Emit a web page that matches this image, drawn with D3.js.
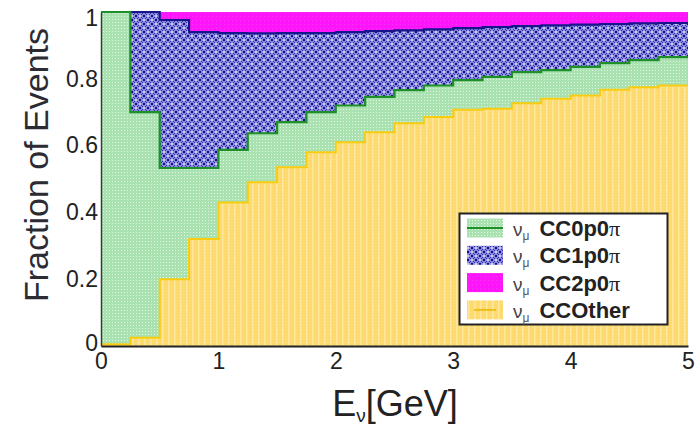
<!DOCTYPE html>
<html>
<head>
<meta charset="utf-8">
<script src="https://cdn.jsdelivr.net/npm/d3@7"></script>
<style>
  body { margin: 0; background: #fff; }
  text { font-family: "Liberation Sans", Arial, Helvetica, sans-serif; }
</style>
</head>
<body>
<svg id="chart" width="697" height="425"></svg>
<script>
// Neutrino energy bins (GeV), lower edges plus the final upper edge
const binEdges = [0, 0.25, 0.5, 0.75, 1.0, 1.25, 1.5, 1.75, 2.0, 2.25, 2.5,
                  2.75, 3.0, 3.25, 3.5, 3.75, 4.0, 4.25, 4.5, 4.75, 5.0];

// Fraction of events per bin for each final-state topology
const ccOther = [0.005, 0.025, 0.20, 0.32, 0.43, 0.49, 0.535, 0.58, 0.61, 0.64,
                 0.667, 0.686, 0.707, 0.71, 0.727, 0.74, 0.75, 0.767, 0.775, 0.78];
const cc0p0pi = [0.995, 0.675, 0.333, 0.213, 0.157, 0.147, 0.135, 0.12, 0.11, 0.106,
                 0.099, 0.094, 0.089, 0.096, 0.093, 0.086, 0.086, 0.08, 0.081, 0.085];
const cc1p0pi = [0.0, 0.30, 0.443, 0.407, 0.35, 0.299, 0.267, 0.237, 0.22, 0.197,
                 0.179, 0.168, 0.156, 0.149, 0.138, 0.134, 0.126, 0.117, 0.11, 0.102];
const cc2p0pi = [0.0, 0.0, 0.024, 0.06, 0.063, 0.064, 0.063, 0.063, 0.06, 0.057,
                 0.055, 0.052, 0.048, 0.045, 0.042, 0.04, 0.038, 0.036, 0.034, 0.033];

const xTicks = [0, 1, 2, 3, 4, 5];
const xTickLabels = ["0", "1", "2", "3", "4", "5"];
const yTicks = [0, 0.2, 0.4, 0.6, 0.8, 1];
const yTickLabels = ["0", "0.2", "0.4", "0.6", "0.8", "1"];

const seriesKeys = ["other", "c0", "c1", "c2"];
const legendNames = ["CC0p0", "CC1p0", "CC2p0", "CCOther"];
const legendPi = [true, true, true, false];
const legendKeys = ["c0", "c1", "c2", "other"];

const W = 697, H = 425;
const margin = { left: 101, right: 9, top: 12, bottom: 79 };
const svg = d3.select("#chart");

const x = d3.scaleLinear().domain([0, 5]).range([margin.left, W - margin.right]);
const y = d3.scaleLinear().domain([0, 1]).range([H - margin.bottom, margin.top]);

// Fill patterns
const defs = svg.append("defs");

const pg = defs.append("pattern").attr("id", "pat-green")
  .attr("patternUnits", "userSpaceOnUse").attr("width", 3).attr("height", 3);
pg.append("rect").attr("width", 3).attr("height", 3).attr("fill", "#a9e2b0");
pg.append("rect").attr("x", 1).attr("y", 1).attr("width", 1).attr("height", 1).attr("fill", "#e2f6e2");

const py = defs.append("pattern").attr("id", "pat-yellow")
  .attr("patternUnits", "userSpaceOnUse").attr("width", 6).attr("height", 3);
py.append("rect").attr("width", 6).attr("height", 3).attr("fill", "#fdda68");
py.append("rect").attr("x", 0).attr("width", 1.5).attr("height", 3).attr("fill", "#fee9a4");
py.append("rect").attr("y", 0).attr("width", 6).attr("height", 0.6).attr("fill", "#fde088");

const pb = defs.append("pattern").attr("id", "pat-blue")
  .attr("patternUnits", "userSpaceOnUse").attr("width", 8).attr("height", 8);
pb.append("rect").attr("width", 8).attr("height", 8).attr("fill", "#9090e8");
pb.append("path").attr("d", "M0,4L4,0L8,4L4,8Z").attr("fill", "none")
  .attr("stroke", "#2e2ea0").attr("stroke-width", 1.0);
[[0, 0], [8, 0], [0, 8], [8, 8], [4, 4]].forEach(([cx, cy]) =>
  pb.append("circle").attr("cx", cx).attr("cy", cy).attr("r", 1.2).attr("fill", "#10107a"));
[[4, 0], [0, 4], [8, 4], [4, 8]].forEach(([cx, cy]) =>
  pb.append("circle").attr("cx", cx).attr("cy", cy).attr("r", 1.0).attr("fill", "#ffffff"));

const pm = defs.append("pattern").attr("id", "pat-magenta")
  .attr("patternUnits", "userSpaceOnUse").attr("width", 4).attr("height", 4);
pm.append("rect").attr("width", 4).attr("height", 4).attr("fill", "#ff14fb");
pm.append("rect").attr("width", 1).attr("height", 1).attr("fill", "#f438f0");

const fills = { other: "url(#pat-yellow)", c0: "url(#pat-green)", c1: "url(#pat-blue)", c2: "url(#pat-magenta)" };
const edgeColors = { other: "#f9cc10", c0: "#1f8f2a", c1: "#16168a" };

// Rows keyed by bin lower edge; last bin repeated at the upper edge for the step curve
const rows = ccOther.map((v, i) => ({
  e: binEdges[i], other: v, c0: cc0p0pi[i], c1: cc1p0pi[i], c2: cc2p0pi[i]
}));
rows.push(Object.assign({}, rows[rows.length - 1], { e: binEdges[binEdges.length - 1] }));

const stacked = d3.stack().keys(seriesKeys)(rows);

const area = d3.area()
  .x(d => x(d.data.e))
  .y0(d => y(d[0]))
  .y1(d => y(d[1]))
  .curve(d3.curveStepAfter);

const topLine = d3.line()
  .x(d => x(d.data.e))
  .y(d => y(d[1]))
  .curve(d3.curveStepAfter);

const plot = svg.append("g");
plot.selectAll("path.layer").data(stacked).join("path")
  .attr("class", "layer")
  .attr("d", area)
  .attr("fill", d => fills[d.key]);

// Upper edges of the stacked layers
["other", "c1", "c0"].forEach(k => {
  const s = stacked.find(d => d.key === k);
  plot.append("path").attr("d", topLine(s))
    .attr("fill", "none")
    .attr("stroke", edgeColors[k])
    .attr("stroke-width", k === "other" ? 2 : 2.2);
});

// Axes
const yAxis = d3.axisLeft(y).tickValues(yTicks).tickSize(0).tickPadding(3)
  .tickFormat((d, i) => yTickLabels[i]);
const gy = svg.append("g").attr("transform", `translate(${margin.left},0)`).call(yAxis);
gy.select(".domain").attr("stroke", "#3a3a3a").attr("stroke-width", 1.5);
gy.selectAll("text").attr("font-size", 23).attr("fill", "#222")
  .attr("font-family", "Liberation Sans, Arial, sans-serif")
  .attr("dy", (d) => d === 1 ? "0.6em" : (d === 0 ? "0.2em" : "0.32em"));

const xAxis = d3.axisBottom(x).tickValues(xTicks).tickSize(0).tickPadding(7)
  .tickFormat((d, i) => xTickLabels[i]);
const gx = svg.append("g").attr("transform", `translate(0,${H - margin.bottom})`).call(xAxis);
gx.select(".domain").attr("stroke", "#222").attr("stroke-width", 2);
gx.selectAll("text").attr("font-size", 23).attr("fill", "#222")
  .attr("font-family", "Liberation Sans, Arial, sans-serif");

// Axis titles
svg.append("text")
  .attr("transform", `translate(48,165) rotate(-90)`)
  .attr("text-anchor", "middle")
  .attr("font-size", 34)
  .attr("fill", "#2b2b33")
  .text("Fraction of Events");

const xt = svg.append("text")
  .attr("x", 395).attr("y", 416)
  .attr("text-anchor", "middle")
  .attr("font-size", 36)
  .attr("fill", "#222");
xt.append("tspan").text("E");
xt.append("tspan").attr("font-size", 19).attr("dy", 6).text("ν");
xt.append("tspan").attr("dy", -6).text("[GeV]");

// Legend
const lg = svg.append("g");
lg.append("rect").attr("x", 459.5).attr("y", 213.5).attr("width", 208).attr("height", 111)
  .attr("fill", "#fff").attr("stroke", "#222").attr("stroke-width", 2);

legendKeys.forEach((k, i) => {
  const cy = 228 + i * 27.3;
  lg.append("rect").attr("x", 467).attr("y", cy - 9.5).attr("width", 36).attr("height", 19)
    .attr("fill", fills[k]);
  if (k === "c0") {
    lg.append("line").attr("x1", 467).attr("x2", 503).attr("y1", cy).attr("y2", cy)
      .attr("stroke", edgeColors.c0).attr("stroke-width", 2);
  }
  if (k === "other") {
    lg.append("line").attr("x1", 474).attr("x2", 496).attr("y1", cy).attr("y2", cy)
      .attr("stroke", "#e8b800").attr("stroke-width", 1.5);
  }
  const t = lg.append("text").attr("x", 513).attr("y", cy + 8).attr("fill", "#222");
  t.append("tspan").attr("font-size", 19).attr("fill", "#444").text("ν");
  t.append("tspan").attr("font-size", 12).attr("dy", 4).attr("fill", "#555").text("μ");
  t.append("tspan").attr("dy", -4).attr("dx", 10).attr("font-size", 22).attr("font-weight", "bold")
    .text(legendNames[i]);
  if (legendPi[i]) {
    t.append("tspan").attr("font-size", 22).attr("font-family", "Liberation Serif, serif")
      .text("π");
  }
});
</script>
</body>
</html>
